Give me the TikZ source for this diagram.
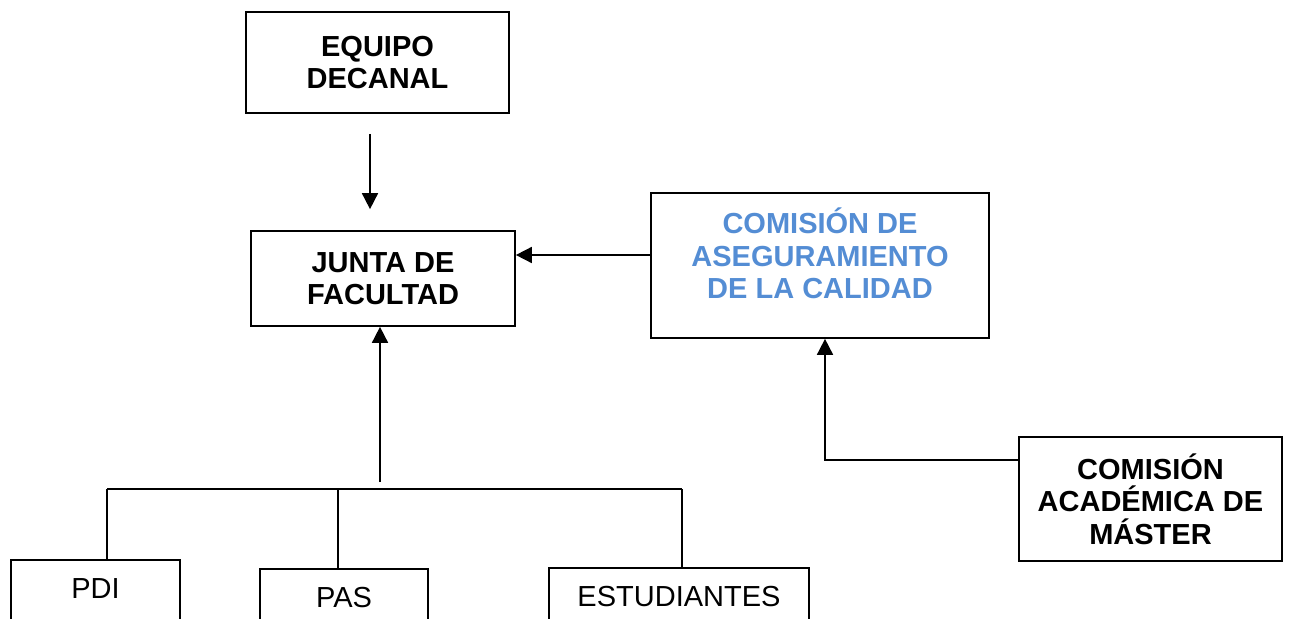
\documentclass[tikz,border=0pt]{standalone}
\usepackage{fontspec}
\setmainfont{Liberation Sans}
\usetikzlibrary{shapes,arrows.meta,positioning}
\definecolor{calblue}{RGB}{84,141,212}

\begin{document}
\begin{tikzpicture}[x=1pt,y=-1pt,
	box/.style={draw, line width=1.7pt, inner sep=0pt, align=center,
		font=\fontsize{29}{32.5}\selectfont\bfseries},
	leaf/.style={draw, line width=1.7pt, inner sep=0pt, anchor=north,
		minimum height=72pt, text depth=14pt, font=\fontsize{29}{32.5}\selectfont},
	arr/.style={line width=1.7pt, -{Triangle[length=16pt,width=16pt]}},
	link/.style={line width=1.7pt}]
	\useasboundingbox (0,0) rectangle (1289,618);
	\clip (0,0) rectangle (1289,618);

	% Boxes
	\node[box, minimum width=263pt, minimum height=101pt] (equipo) at (377.5,62.5) {EQUIPO\\DECANAL};
	\node[box, minimum width=264pt, minimum height=95pt] (junta) at (383,278.5) {JUNTA DE\\FACULTAD};
	\node[box, minimum width=338pt, minimum height=145pt, text=calblue, text depth=24pt] (calidad) at (820,265.5) {COMISIÓN DE\\ASEGURAMIENTO\\DE LA CALIDAD};
	\node[box, minimum width=263pt, minimum height=124pt] (master) at (1150.5,499) {COMISIÓN\\ACADÉMICA DE\\MÁSTER};

	% Members
	\node[leaf, minimum width=169pt] (pdi) at (95.5,559) {PDI};
	\node[leaf, minimum width=168pt] (pas) at (344,568) {PAS};
	\node[leaf, minimum width=260pt] (est) at (679,567) {ESTUDIANTES};

	% Arrows
	\coordinate (ax) at (370,0);
	\draw[arr, shorten <=20pt, shorten >=21pt] (equipo.south -| ax) -- (junta.north -| ax);
	\coordinate (cy) at (0,255);
	\draw[arr] (calidad.west |- cy) -- (junta.east |- cy);
	\coordinate (mx) at (825,0);
	\coordinate (my) at (0,460);
	\draw[arr] (master.west |- my) -- (mx |- my) -- (calidad.south -| mx);

	% Tree
	\coordinate (stem) at (380,482);
	\draw[arr] (stem) -- (junta.south -| stem);
	\coordinate (b1) at (107,489);
	\coordinate (b2) at (338,489);
	\coordinate (b3) at (682,489);
	\draw[link] (b1) -- (b3);
	\draw[link] (b1) -- (pdi.north -| b1);
	\draw[link] (b2) -- (pas.north -| b2);
	\draw[link] (b3) -- (est.north -| b3);
\end{tikzpicture}
\end{document}
